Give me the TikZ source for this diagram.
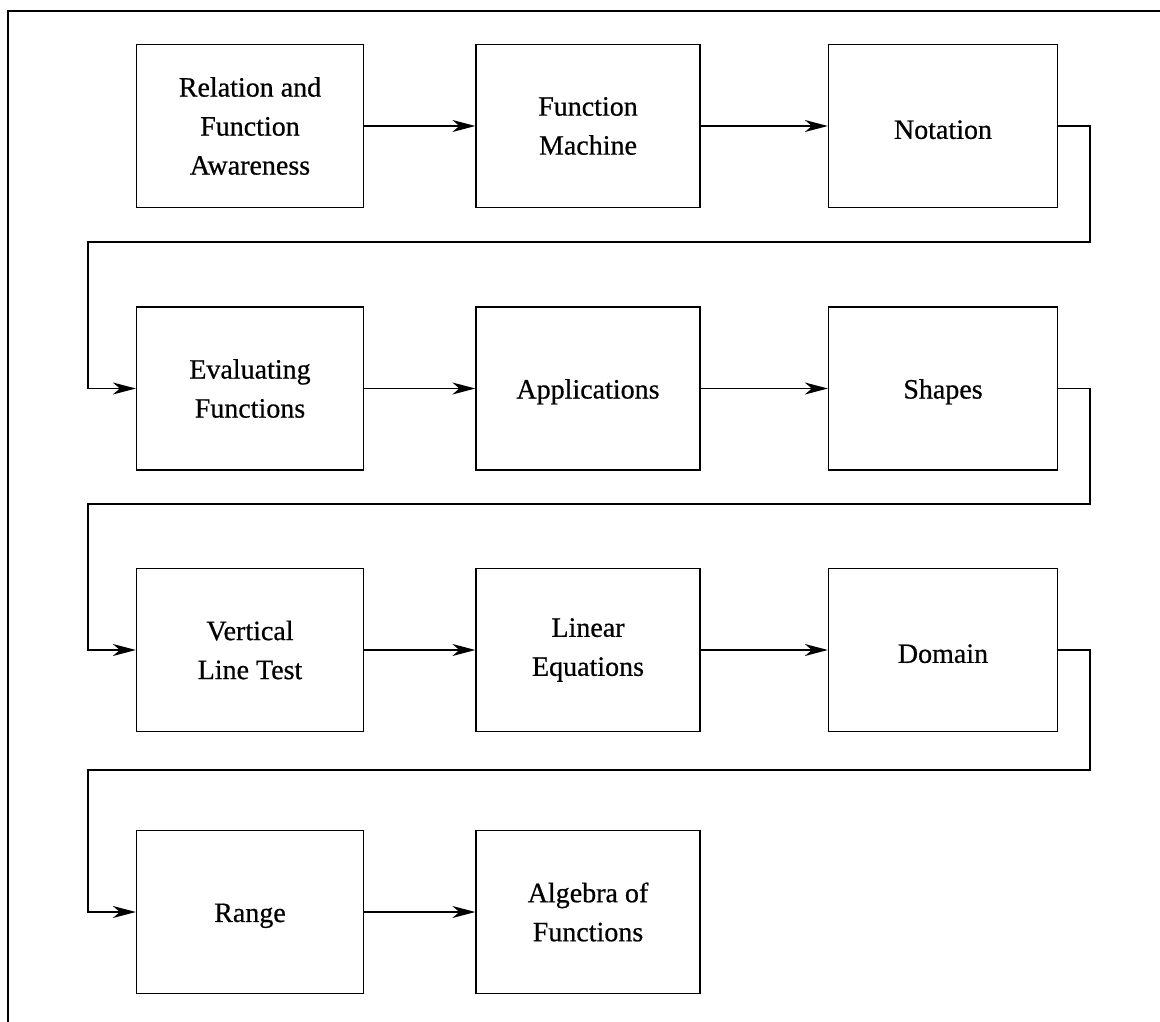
\documentclass[tikz,border=0pt]{standalone}
\usepackage{fontspec}
\setmainfont{Liberation Serif}[FakeBold=0.6]
\usetikzlibrary{arrows.meta}
\begin{document}
\begin{tikzpicture}[x=1pt,y=-1pt,
  stepbox/.style={draw, line width=1.3pt, minimum height=163pt, align=center,
    inner sep=0pt, font=\fontsize{28}{39}\selectfont,
    execute at begin node={\rule{0pt}{26pt}}},
  colA/.style={stepbox, minimum width=227pt},
  colB/.style={stepbox, minimum width=224pt},
  colC/.style={stepbox, minimum width=229pt},
  arr/.style={line width=1.3pt, -{Stealth[length=23pt,width=12pt,inset=7pt]}},
  frame/.style={line width=1.4pt}]
\useasboundingbox (0,0) rectangle (1160,1022);
% outer frame (partial)
\coordinate (ftl) at (8,11);
\coordinate (ftr) at (1160,11);
\coordinate (fbl) at (8,1022);
\draw[frame] (ftr) -- (ftl) -- (fbl);
% row 1
\node[colA] (n1) at (250,126) {Relation and\\Function\\Awareness};
\node[colB] (n2) at (588,126) {Function\\Machine};
\node[colC] (n3) at (943,126) {Notation};
% row 2
\node[colA] (n4) at (250,388.5) {Evaluating\\Functions};
\node[colB] (n5) at (588,388.5) {Applications};
\node[colC] (n6) at (943,388.5) {Shapes};
% row 3
\node[colA] (n7) at (250,650) {Vertical\\Line Test};
\node[colB] (n8) at (588,650) {Linear\\Equations};
\node[colC] (n9) at (943,650) {Domain};
% row 4
\node[colA] (n10) at (250,912) {Range};
\node[colB] (n11) at (588,912) {Algebra of\\Functions};
% wrap coordinates
\coordinate (r1) at (1090,242);
\coordinate (l1) at (88,242);
\coordinate (r2) at (1090,504);
\coordinate (l2) at (88,504);
\coordinate (r3) at (1090,770);
\coordinate (l3) at (88,770);
% connectors
\draw[arr] (n1.east) -- (n2.west);
\draw[arr] (n2.east) -- (n3.west);
\draw[arr] (n3.east) -| (r1) -- (l1) |- (n4.west);
\draw[arr] (n4.east) -- (n5.west);
\draw[arr] (n5.east) -- (n6.west);
\draw[arr] (n6.east) -| (r2) -- (l2) |- (n7.west);
\draw[arr] (n7.east) -- (n8.west);
\draw[arr] (n8.east) -- (n9.west);
\draw[arr] (n9.east) -| (r3) -- (l3) |- (n10.west);
\draw[arr] (n10.east) -- (n11.west);
\end{tikzpicture}
\end{document}
